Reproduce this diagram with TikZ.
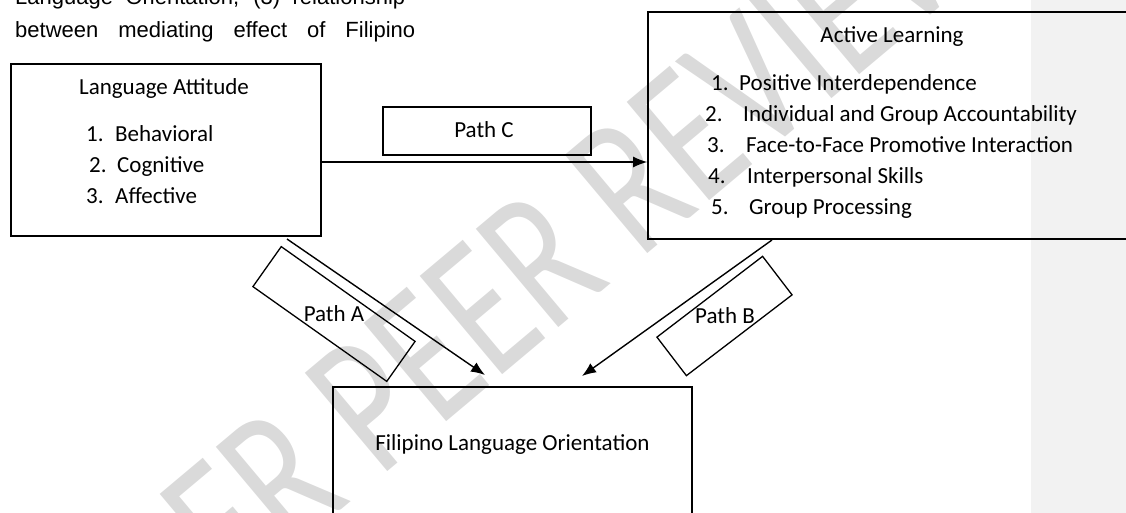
\documentclass[tikz,border=0pt]{standalone}
\usepackage{fontspec}
\setmainfont{Carlito}
\newfontfamily\arialfont{Liberation Sans}
\newfontfamily\wmfont{Carlito}
\usetikzlibrary{arrows.meta}
\definecolor{panelgray}{RGB}{242,242,242}
\definecolor{wmgray}{RGB}{218,218,218}
\begin{document}
\begin{tikzpicture}[x=1pt,y=-1pt,
  box/.style={draw=black, line width=1.6pt, rectangle, inner sep=0pt},
  pbox/.style={draw=black, line width=1.3pt, rectangle, inner sep=0pt},
  lbl/.style={font=\fontsize{23}{27}\selectfont, inner sep=0pt, anchor=base west},
  clbl/.style={font=\fontsize{23}{27}\selectfont, inner sep=0pt, anchor=base},
  hdr/.style={font=\arialfont\fontsize{22}{25}\selectfont, inner sep=0pt, anchor=base west},
  arr/.style={line width=1.4pt, -{Latex[length=14pt,width=11pt]}},
]
\useasboundingbox (0,0) rectangle (1126,513);
\fill[panelgray] (1031,0) rectangle (1126,513);
\node[rotate=40, anchor=base west, text=wmgray, font=\wmfont\fontsize{200}{200}\selectfont, inner sep=0pt] (wm) at (379,478.6) {\scalebox{0.75}[1]{\llap{UNDER }PEER REVIEW}};

% header text
\node[hdr] (h1) at (15,5) {\makebox[390pt][s]{Language Orientation, (3) relationship}};
\node[hdr] (h2) at (15,38) {\makebox[400pt][s]{between mediating effect of Filipino}};

% boxes
\node[box, minimum width=310pt, minimum height=172pt] (la) at (166,150) {};
\node[box, minimum width=492pt, minimum height=227pt] (al) at (894,125.5) {};
\node[box, minimum width=359pt, minimum height=143pt] (fl) at (512.5,458.5) {};
\node[pbox, minimum width=208pt, minimum height=48pt] (pc) at (487,131) {};
\node[pbox, rotate=-35.3, minimum width=164pt, minimum height=49pt] (pa) at (334,314) {};
\node[pbox, rotate=37.4, minimum width=133pt, minimum height=48.5pt] (pb) at (724.5,316) {};

% Language Attitude
\node[clbl] (latitle) at (164,95) {Language Attitude};
\node[lbl] (la1n) at (86,142) {1.};
\node[lbl] (la1) at (115,142) {Behavioral};
\node[lbl] (la2n) at (89,173) {2.};
\node[lbl] (la2) at (117,173) {Cognitive};
\node[lbl] (la3n) at (86,204) {3.};
\node[lbl] (la3) at (115,204) {Affective};

% Active Learning
\node[clbl] (altitle) at (892,43) {Active Learning};
\node[lbl] (al1n) at (711,91) {1.};
\node[lbl] (al1) at (739,91) {Positive Interdependence};
\node[lbl] (al2n) at (705,122) {2.};
\node[lbl] (al2) at (743,122) {Individual and Group Accountability};
\node[lbl] (al3n) at (707,153) {3.};
\node[lbl] (al3) at (746,153) {Face-to-Face Promotive Interaction};
\node[lbl] (al4n) at (708,183) {4.};
\node[lbl] (al4) at (747,183) {Interpersonal Skills};
\node[lbl] (al5n) at (711,214) {5.};
\node[lbl] (al5) at (749,214) {Group Processing};

% Filipino Language Orientation
\node[clbl] (fltext) at (512.5,450) {Filipino Language Orientation};

% path labels
\node[clbl] (pctext) at (484,138) {Path C};
\node[clbl] (patext) at (334,321) {Path A};
\node[clbl] (pbtext) at (725,323) {Path B};

% connectors
\coordinate (cy) at (0,162);
\coordinate (a1) at (287,239);
\coordinate (a2) at (485,375);
\coordinate (b1) at (772,240);
\coordinate (b2) at (582,376);
\draw[arr] (la.east |- cy) -- (al.west |- cy);
\draw[arr] (a1) -- (a2);
\draw[arr] (b1) -- (b2);
\end{tikzpicture}
\end{document}
